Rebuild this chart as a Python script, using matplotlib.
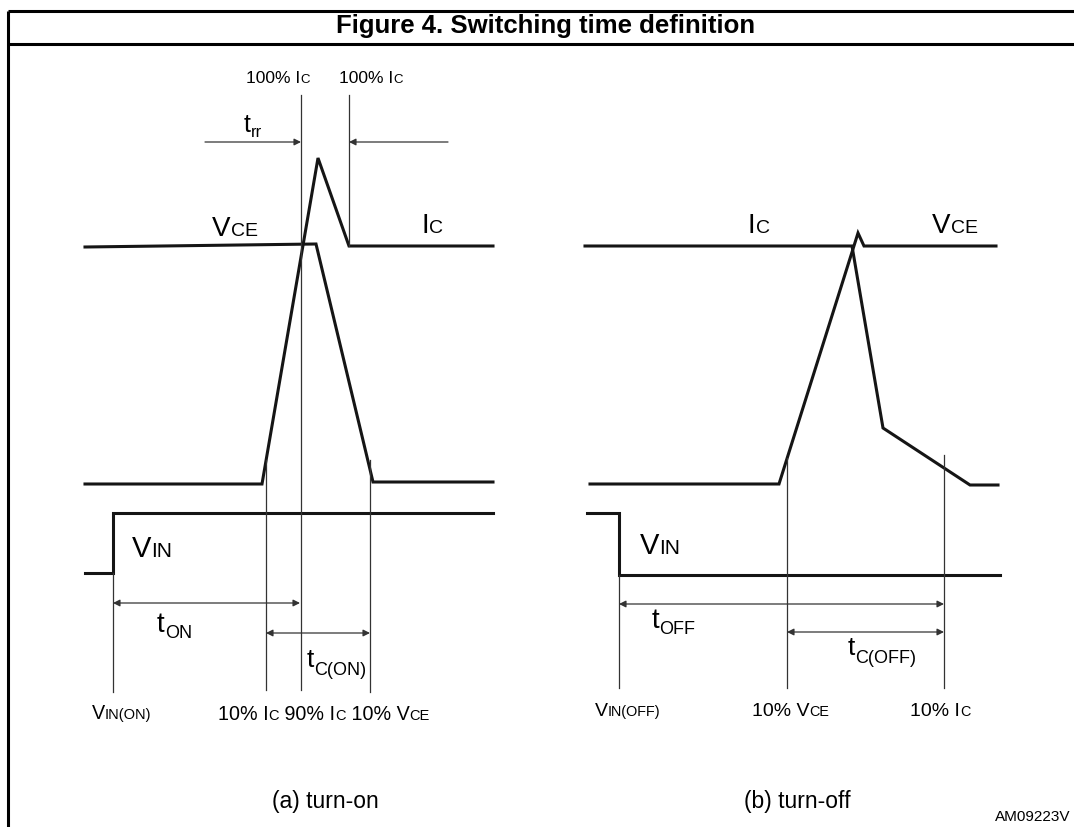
import matplotlib
matplotlib.use("Agg")
import matplotlib.pyplot as plt
from matplotlib.transforms import offset_copy

plt.rcParams['font.family'] = ['Liberation Sans', 'DejaVu Sans']

# ---------------- data (diagram units = reference pixel grid) ----------------
# (a) turn-on waveforms
on_vce_x = [85, 316, 373, 493]
on_vce_y = [247, 244, 482, 482]
on_ic_x = [85, 262, 318, 349, 493]
on_ic_y = [484, 484, 158, 246, 246]
on_vin_x = [85, 113, 113, 493]
on_vin_y = [573, 573, 513, 513]
# (b) turn-off waveforms
off_ic_x = [585, 852, 883, 970, 998]
off_ic_y = [246, 246, 428, 485, 485]
off_vce_x = [590, 779, 853, 858, 864, 996]
off_vce_y = [484, 484, 249, 233, 246, 246]
off_vin_x = [587, 619, 619, 1000]
off_vin_y = [513, 513, 575, 575]

# marker lines: (x, y_top, y_bottom)
on_markers = [(301, 95, 690), (349, 95, 246), (113, 573, 692), (266, 460, 690), (370, 460, 692)]
off_markers = [(619, 575, 688), (787, 458, 688), (944, 455, 688)]

# dimension arrows: (x_start, x_end, y)
dims = [(113, 300, 603), (266, 370, 633), (619, 944, 604), (787, 944, 632)]
trr_arrows = [(205, 301, 142), (448, 349, 142)]

title = "Figure 4. Switching time definition"
captions = ["(a) turn-on", "(b) turn-off"]
code_label = "AM09223V"

# ---------------- figure ----------------
W, H = 1074, 827
fig = plt.figure(figsize=(W / 100, H / 100), dpi=100)
ax = fig.add_axes([0, 0, 1, 1])
ax.set_xlim(0, W)
ax.set_ylim(H, 0)
ax.axis('off')

ink = '#151515'
thin = '#333333'

# frame
ax.plot([7.5, 7.5], [11, H], color='black', lw=2.2, solid_capstyle='butt')
ax.plot([7.5, W], [11, 11], color='black', lw=2.2, solid_capstyle='butt')
ax.plot([7.5, W], [44, 44], color='black', lw=2.2, solid_capstyle='butt')

# waveforms
for xs, ys in [(on_vce_x, on_vce_y), (on_ic_x, on_ic_y), (on_vin_x, on_vin_y),
               (off_ic_x, off_ic_y), (off_vce_x, off_vce_y), (off_vin_x, off_vin_y)]:
    ax.plot(xs, ys, color=ink, lw=2.2, solid_joinstyle='miter')

# markers
for x, y0, y1 in on_markers + off_markers:
    ax.plot([x, x], [y0, y1], color=thin, lw=0.9)

# arrows
for x0, x1, y in dims:
    ax.annotate('', xy=(x1, y), xytext=(x0, y),
                arrowprops=dict(arrowstyle='<|-|>', color=thin, lw=0.9,
                                shrinkA=0, shrinkB=0, mutation_scale=10))
for x0, x1, y in trr_arrows:
    ax.annotate('', xy=(x1, y), xytext=(x0, y),
                arrowprops=dict(arrowstyle='-|>', color=thin, lw=0.9,
                                shrinkA=0, shrinkB=0, mutation_scale=10))

renderer = fig.canvas.get_renderer()


def rich(x, y, parts, ha='left'):
    """parts: list of (text, fontsize, dy_px) drawn side by side on a baseline at (x, y)."""
    widths = []
    texts = []
    for s, fs, dy in parts:
        t = ax.text(x, y, s, fontsize=fs, va='baseline', ha='left', color='black')
        widths.append(t.get_window_extent(renderer).width)
        texts.append(t)
    total = sum(widths)
    start = {'left': 0, 'center': -total / 2, 'right': -total}[ha]
    off = start
    for t, w, (s, fs, dy) in zip(texts, widths, parts):
        t.set_transform(offset_copy(ax.transData, fig=fig, x=off, y=-dy, units='dots'))
        off += w


# title
ax.text(546, 33, title, fontsize=18.5, fontweight='bold', ha='center', va='baseline')

# top labels (a)
rich(278, 83, [("100% I", 12.5, 0), ("C", 9.5, 0)], ha='center')
rich(371, 83, [("100% I", 12.5, 0), ("C", 9.5, 0)], ha='center')
rich(244, 132, [("t", 18, 0), ("rr", 12, 5)])
rich(212, 236, [("V", 20, 0), ("CE", 14, 0)])
rich(421, 233, [("I", 20, 0), ("C", 14, 0)])
rich(132, 557, [("V", 21, 0), ("IN", 15, 0)])
rich(157, 632, [("t", 20, 0), ("ON", 13, 6)])
rich(307, 667, [("t", 19, 0), ("C(ON)", 13, 8)])
rich(92, 719, [("V", 14.2, 0), ("IN(ON)", 10.5, 0)])
rich(218, 720, [("10% I", 14.2, 0), ("C", 10.5, 0), (" 90% I", 14.2, 0), ("C", 10.5, 0),
                (" 10% V", 14.2, 0), ("CE", 10.5, 0)])

# labels (b)
rich(748, 233, [("I", 20, 0), ("C", 14, 0)])
rich(932, 233, [("V", 20, 0), ("CE", 14, 0)])
rich(640, 554, [("V", 21, 0), ("IN", 15, 0)])
rich(652, 628, [("t", 20, 0), ("OFF", 13, 6)])
rich(848, 655, [("t", 19, 0), ("C(OFF)", 13, 8)])
rich(595, 716, [("V", 14, 0), ("IN(OFF)", 10.4, 0)])
rich(752, 716, [("10% V", 14, 0), ("CE", 10.4, 0)])
rich(910, 716, [("10% I", 14, 0), ("C", 10.4, 0)])

# captions
ax.text(325, 808, captions[0], fontsize=16.5, ha='center', va='baseline')
ax.text(797, 808, captions[1], fontsize=16.5, ha='center', va='baseline')
ax.text(1070, 821, code_label, fontsize=11, ha='right', va='baseline')

fig.savefig('out.png', dpi=100)
